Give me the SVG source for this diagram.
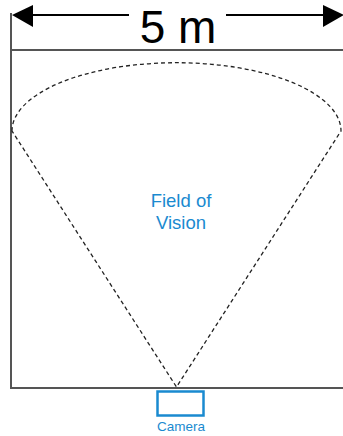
<svg xmlns="http://www.w3.org/2000/svg" width="343" height="436" viewBox="0 0 343 436">
<style>
.frame{fill:none;stroke:#555;stroke-width:2}
.fov{fill:none;stroke:#222;stroke-width:1.3;stroke-dasharray:4 3}
.blue{fill:#1a8ad0;font-family:"Liberation Sans",Arial,sans-serif;text-anchor:middle}
</style>
<rect width="343" height="436" fill="#fff"/>
<g id="room">
<path class="frame" d="M11,13 V388 H345 M11,50 H345"/>
</g>
<g id="dimension">
<path d="M28,15 H129 M226,15 H328" stroke="#000" stroke-width="2" fill="none"/>
<polygon points="12,15 33,5 33,27" fill="#000"/>
<polygon points="344,15 323,5 323,27" fill="#000"/>
<text x="178" y="43" font-family="'Liberation Sans',Arial,sans-serif" font-size="46" text-anchor="middle" fill="#000">5 m</text>
</g>
<g id="connectors">
<path class="fov" d="M12,131 A164.5,68.3 0 0 1 341,131 L176.5,387 Z"/>
</g>
<g id="field">
<text class="blue" x="181" y="207" font-size="18.5">Field of</text>
<text class="blue" x="181" y="228.5" font-size="18.5">Vision</text>
</g>
<g id="camera">
<rect x="157.5" y="391.5" width="46" height="24" fill="none" stroke="#1a8ad0" stroke-width="2.5"/>
<text class="blue" x="181" y="431" font-size="13.5">Camera</text>
</g>
</svg>
